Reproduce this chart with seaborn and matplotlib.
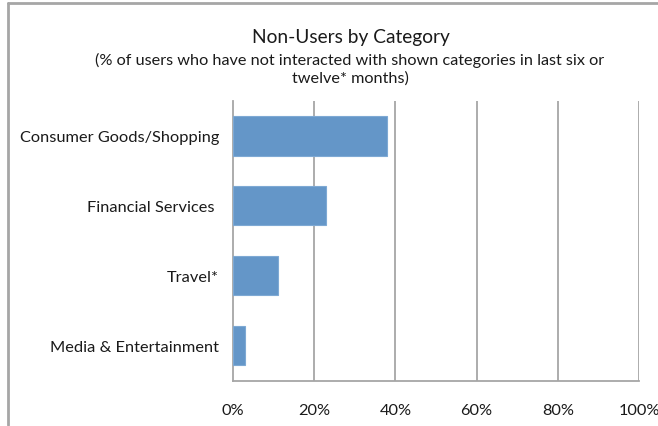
import matplotlib
matplotlib.use("Agg")
import matplotlib.pyplot as plt
from matplotlib.lines import Line2D
from matplotlib.ticker import FuncFormatter
import pandas as pd
import seaborn as sns

categories = ["Consumer Goods/Shopping", "Financial Services ", "Travel*", "Media & Entertainment"]
non_users_pct = [38, 23, 11, 3]
x_ticks = [0, 20, 40, 60, 80, 100]

title = "Non-Users by Category"
subtitle = "(% of users who have not interacted with shown categories in last six or\ntwelve* months)"

df = pd.DataFrame({"category": categories, "pct": non_users_pct})

sns.set_theme(style="white")
plt.rcParams["font.family"] = ["Lato", "DejaVu Sans"]

W, H = 658, 427
fig = plt.figure(figsize=(W / 100, H / 100), dpi=100)
fig.patch.set_facecolor("white")

# plot area in pixel coordinates
x0, x1, y0, y1 = 233, 639, 102, 381.5
ax = fig.add_axes([x0 / W, 1 - y1 / H, (x1 - x0) / W, (y1 - y0) / H])

grid_c = "#A6A6A6"
sns.barplot(data=df, x="pct", y="category", orient="h", ax=ax,
            color="#6496C8", saturation=1, width=0.56,
            edgecolor="#7EA9D4", linewidth=0.8, zorder=3)

ax.set_xlim(0, 100)
ax.set_ylim(3.5, -0.5)
ax.set_xticks(x_ticks)
ax.xaxis.set_major_formatter(FuncFormatter(lambda v, p: f"{v:.0f}%"))
ax.set_yticks([-0.5, 0.5, 1.5, 2.5, 3.5], minor=False)
ax.set_yticklabels([])
ax.set_yticks(range(len(categories)), minor=True)
ax.set_yticklabels(categories, minor=True)
ax.tick_params(axis="y", which="minor", length=0, pad=10, labelsize=11.8, labelcolor="#1a1a1a")
ax.tick_params(axis="y", which="major", length=4, width=1.2, color=grid_c, direction="out")
ax.tick_params(axis="x", length=4, width=1.2, color=grid_c, direction="out",
               pad=12, labelsize=11.8, labelcolor="#1a1a1a")
ax.set_xlabel("")
ax.set_ylabel("")

for v in x_ticks[1:]:
    ax.axvline(v, color=grid_c, lw=1.3, zorder=1)

for s in ["top", "right"]:
    ax.spines[s].set_visible(False)
for s in ["left", "bottom"]:
    ax.spines[s].set_color(grid_c)
    ax.spines[s].set_linewidth(1.3)

# outer chart frame (left and top edges)
fig.add_artist(Line2D([8 / W, 8 / W], [1 - 4 / H, 1 - 426 / H], transform=fig.transFigure,
                      color=grid_c, lw=2))
fig.add_artist(Line2D([8 / W, 1.0], [1 - 4 / H, 1 - 4 / H], transform=fig.transFigure,
                      color=grid_c, lw=2))

fig.text(351 / W, 1 - 38 / H, title, ha="center", va="center", fontsize=13.8, color="#1a1a1a")
fig.text(350 / W, 1 - 69 / H, subtitle, ha="center", va="center", fontsize=11.7,
         color="#1a1a1a", linespacing=1.3)

fig.savefig("out.png", dpi=100)
